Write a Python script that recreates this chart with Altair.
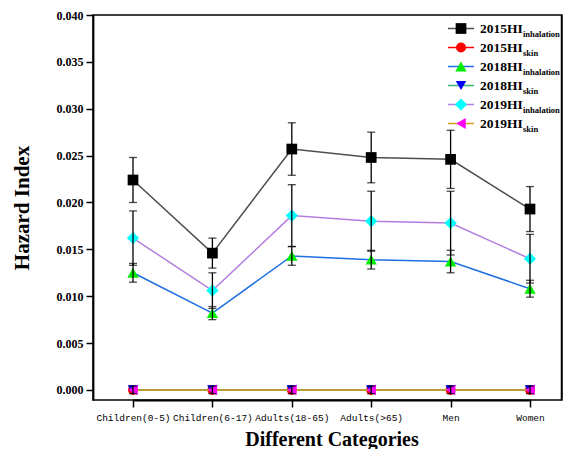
import altair as alt
import pandas as pd

categories = ["Children(0-5)", "Children(6-17)", "Adults(18-65)", "Adults(>65)", "Men", "Women"]

hi15_inh = [0.0224, 0.0146, 0.0257, 0.0248, 0.0246, 0.0193]
hi15_inh_err = [0.0024, 0.0016, 0.0028, 0.0027, 0.0031, 0.0024]
hi15_skin = [0.00001, 0.00001, 0.00001, 0.00001, 0.00001, 0.00001]
hi15_skin_err = [0.0, 0.0, 0.0, 0.0, 0.0, 0.0]
hi18_inh = [0.0125, 0.0082, 0.0143, 0.0139, 0.0137, 0.0108]
hi18_inh_err = [0.0010, 0.0007, 0.0010, 0.0010, 0.0012, 0.0009]
hi18_skin = [0.00001, 0.00001, 0.00001, 0.00001, 0.00001, 0.00001]
hi18_skin_err = [0.0, 0.0, 0.0, 0.0, 0.0, 0.0]
hi19_inh = [0.0162, 0.0106, 0.0186, 0.0180, 0.0178, 0.0140]
hi19_inh_err = [0.0029, 0.0019, 0.0033, 0.0032, 0.0034, 0.0026]
hi19_skin = [0.00001, 0.00001, 0.00001, 0.00001, 0.00001, 0.00001]
hi19_skin_err = [0.0004, 0.0004, 0.0004, 0.0004, 0.0004, 0.0004]

series_names = ["2015HI", "2015HI", "2018HI", "2018HI", "2019HI", "2019HI"]
series_subs = ["inhalation", "skin", "inhalation", "skin", "inhalation", "skin"]
series_vals = [hi15_inh, hi15_skin, hi18_inh, hi18_skin, hi19_inh, hi19_skin]
series_errs = [hi15_inh_err, hi15_skin_err, hi18_inh_err, hi18_skin_err, hi19_inh_err, hi19_skin_err]
line_colors = ["#4d4d4d", "#ff0000", "#1f6fe0", "#3cb371", "#b27ee0", "#d4a020"]
marker_colors = ["#000000", "#ff0000", "#00ee00", "#0000ff", "#00ffff", "#ff00ff"]
marker_shapes = ["square", "circle", "triangle-up", "triangle-down", "diamond", "triangle-left"]
marker_sizes = [115, 100, 130, 110, 150, 120]

W, H = 469, 385

x_enc = alt.X("cat:N", sort=categories,
              scale=alt.Scale(type="point", range=[40, 437], padding=0),
              axis=alt.Axis(title="Different Categories", labelAngle=0,
                            labelFont="Liberation Mono", labelFontSize=9.5,
                            labelColor="black", labelPadding=5,
                            titleFont="Liberation Serif", titleFontSize=20,
                            titleFontWeight="bold", titlePadding=8,
                            tickSize=7, tickWidth=1.5, tickColor="black",
                            domainColor="black", domainWidth=1.8, grid=False))
y_scale = alt.Scale(domain=[-0.00107, 0.040], nice=False, zero=False)
y_axis = alt.Axis(title="Hazard Index", values=[0, 0.005, 0.01, 0.015, 0.02, 0.025, 0.03, 0.035, 0.04],
                  format=".3f", labelFont="Liberation Serif", labelFontSize=12,
                  labelFontWeight="bold", labelColor="black", labelPadding=3,
                  titleFont="Liberation Serif", titleFontSize=21, titleFontWeight="bold",
                  titlePadding=24, tickSize=7, tickWidth=1.5, tickColor="black",
                  domainColor="black", domainWidth=1.8, grid=False)

layers = []
err_layers = []
for i in range(6):
    df = pd.DataFrame({
        "cat": categories,
        "val": series_vals[i],
        "lo": [v - e for v, e in zip(series_vals[i], series_errs[i])],
        "hi": [v + e for v, e in zip(series_vals[i], series_errs[i])],
    })
    base = alt.Chart(df)
    layers.append(base.mark_line(color=line_colors[i], strokeWidth=1.5).encode(
        x=x_enc, y=alt.Y("val:Q", scale=y_scale, axis=y_axis)))
    layers.append(base.mark_point(shape=marker_shapes[i], filled=True, opacity=1,
                                  color=marker_colors[i], size=marker_sizes[i]).encode(
        x=x_enc, y=alt.Y("val:Q", scale=y_scale, axis=y_axis)))
    if max(series_errs[i]) > 0:
        err_layers.append(base.mark_rule(color="black", strokeWidth=1.3).encode(
            x=x_enc, y=alt.Y("lo:Q", scale=y_scale, axis=y_axis), y2="hi:Q"))
        err_layers.append(base.mark_tick(color="black", size=8, thickness=1.3).encode(
            x=x_enc, y=alt.Y("lo:Q", scale=y_scale, axis=y_axis)))
        err_layers.append(base.mark_tick(color="black", size=8, thickness=1.3).encode(
            x=x_enc, y=alt.Y("hi:Q", scale=y_scale, axis=y_axis)))

# right edge of the plot frame
frame_df = pd.DataFrame({"k": [0]})
frame = [alt.Chart(frame_df).mark_rule(color="black", strokeWidth=1.5).encode(
    x=alt.value(W - 0.5), y=alt.value(0), y2=alt.value(H))]

# manual legend (pixel positions within the plot area)
leg_layers = []
leg_x0, leg_y0, leg_dy = 355, 13.5, 19
for i in range(6):
    yy = leg_y0 + i * leg_dy
    ld = pd.DataFrame({"name": [series_names[i]], "sub": [series_subs[i]]})
    lb = alt.Chart(ld)
    leg_layers.append(lb.mark_rule(color=line_colors[i], strokeWidth=1.5).encode(
        x=alt.value(leg_x0), x2=alt.value(leg_x0 + 26), y=alt.value(yy)))
    leg_layers.append(lb.mark_point(shape=marker_shapes[i], filled=True, opacity=1,
                                    color=marker_colors[i], size=marker_sizes[i]).encode(
        x=alt.value(leg_x0 + 13), y=alt.value(yy)))
    leg_layers.append(lb.mark_text(font="Liberation Serif", fontSize=13.5, fontWeight="bold",
                                   align="left", baseline="middle", color="black").encode(
        x=alt.value(leg_x0 + 32), y=alt.value(yy), text="name:N"))
    leg_layers.append(lb.mark_text(font="Liberation Serif", fontSize=8.5, fontWeight="bold",
                                   align="left", baseline="middle", color="black").encode(
        x=alt.value(leg_x0 + 75), y=alt.value(yy + 5), text="sub:N"))

chart = alt.layer(*layers, *err_layers, *frame, *leg_layers).properties(
    width=W, height=H,
    background="white",
    autosize=alt.AutoSizeParams(type="none"),
    padding={"left": 85, "top": 7, "right": 3, "bottom": 49},
).configure_view(stroke="black", strokeWidth=1.5)

chart.save("out.html", embed_options={"renderer": "svg", "actions": False})
